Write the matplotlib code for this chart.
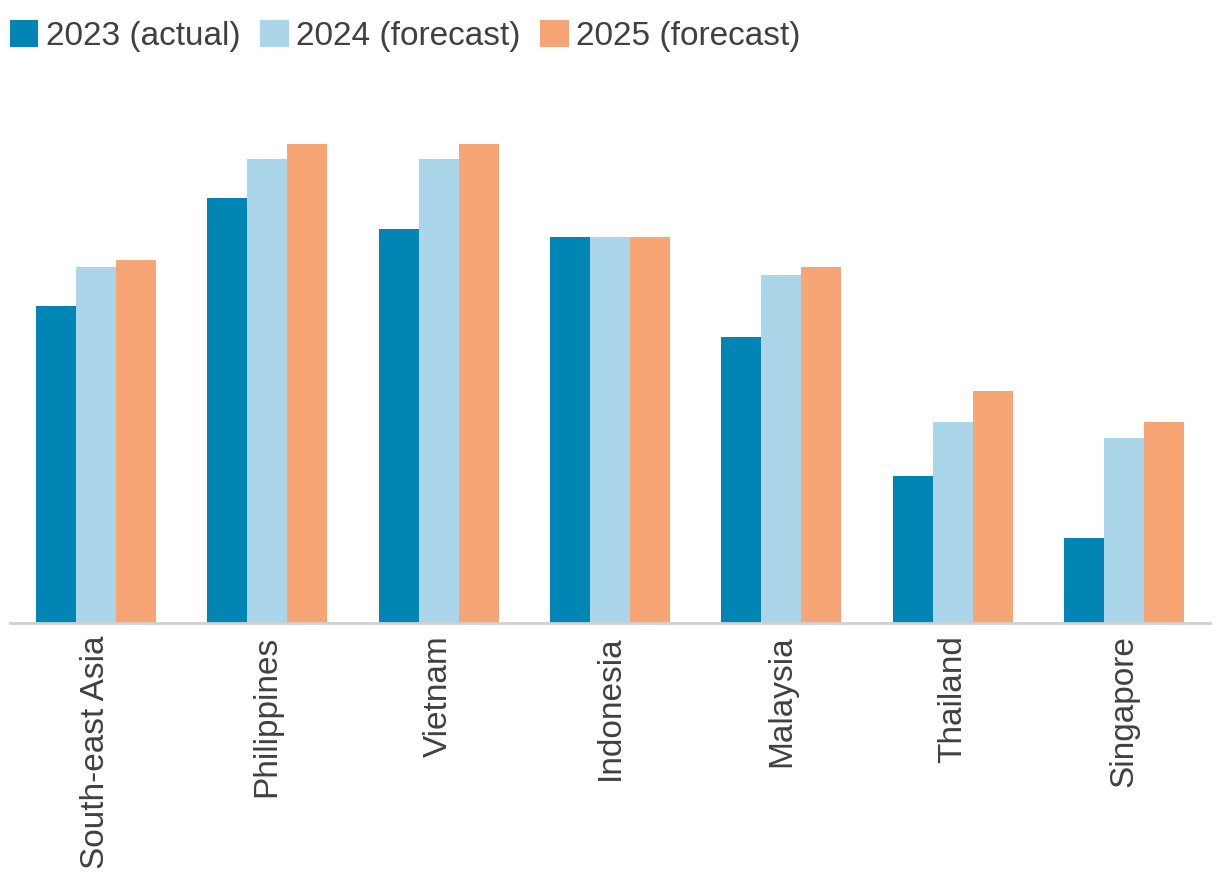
import numpy as np
import matplotlib
matplotlib.use("Agg")
import matplotlib.pyplot as plt

plt.rcParams['font.family'] = ['Liberation Sans', 'DejaVu Sans']

countries = ['South-east Asia', 'Philippines', 'Vietnam', 'Indonesia',
             'Malaysia', 'Thailand', 'Singapore']
series_names = ['2023 (actual)', '2024 (forecast)', '2025 (forecast)']
vals_2023 = [4.1, 5.5, 5.1, 5.0, 3.7, 1.9, 1.1]
vals_2024 = [4.6, 6.0, 6.0, 5.0, 4.5, 2.6, 2.4]
vals_2025 = [4.7, 6.2, 6.2, 5.0, 4.6, 3.0, 2.6]
colors = ['#0085B5', '#ABD5E8', '#F7A574']

W, H = 1220, 896
fig = plt.figure(figsize=(W / 100, H / 100), dpi=100)
ax = fig.add_axes([10 / W, 1 - 623 / H, 1200 / W, 541 / H])

x = np.arange(len(countries))
bw = 0.7 / 3
for i, (vals, name, c) in enumerate(zip([vals_2023, vals_2024, vals_2025], series_names, colors)):
    ax.bar(x + (i - 1) * bw, vals, width=bw, color=c, label=name, linewidth=0)

ax.set_xlim(-0.5, len(countries) - 0.5)
ax.set_ylim(0, 7)
for s in ['top', 'right', 'left']:
    ax.spines[s].set_visible(False)
ax.spines['bottom'].set_color('#D0D0D0')
ax.spines['bottom'].set_linewidth(2)
ax.set_yticks([])
ax.set_xticks(x)
ax.set_xticklabels(countries, rotation=90, fontsize=24, color='#404040')
ax.tick_params(axis='x', length=0, pad=9)

fig.legend(loc='upper left', bbox_to_anchor=(10 / W, 1 - 20 / H), ncol=3, frameon=False,
           fontsize=24, labelcolor='#404040', handlelength=0.85, handleheight=0.85,
           handletextpad=0.22, columnspacing=0.6, borderaxespad=0, borderpad=0)

fig.savefig('out.png', dpi=100)
